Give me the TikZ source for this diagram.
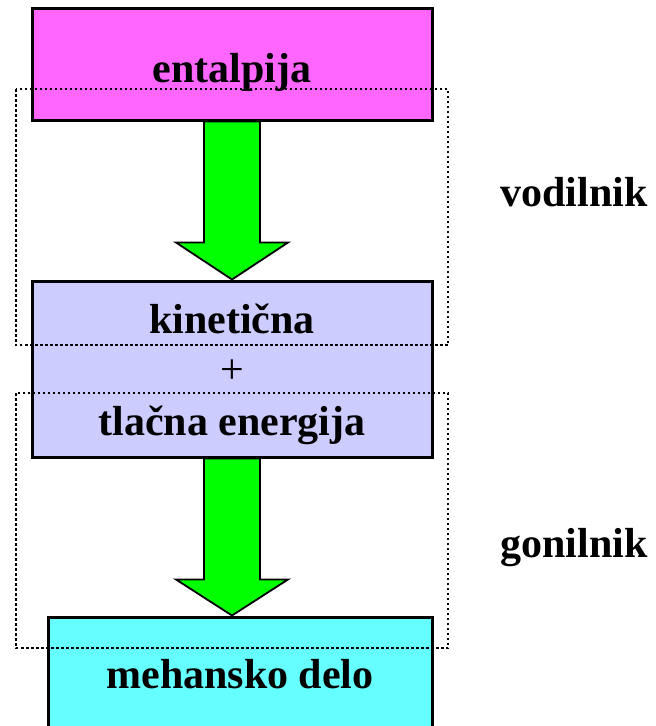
\documentclass[tikz,border=0pt]{standalone}
\usepackage{fontspec}
\setmainfont{Liberation Serif}
\usetikzlibrary{calc}

\definecolor{enthalpy}{HTML}{FF66FF}
\definecolor{energy}{HTML}{CCCCFF}
\definecolor{work}{HTML}{66FFFF}
\definecolor{flow}{HTML}{00FF00}

\tikzset{
  x=1pt, y=-1pt,
  block/.style={draw=black, line width=3pt, rectangle, inner sep=0pt},
  caption/.style={font=\fontsize{42}{50}\selectfont\bfseries, inner sep=0pt, anchor=base},
  region/.style={draw=black, line width=2.5pt, dash pattern=on 2.5pt off 2.5pt},
  flowarrow/.style={fill=flow, draw=black, line width=1.8pt, line join=miter},
}

\begin{document}
\begin{tikzpicture}
  \useasboundingbox (0,0) rectangle (656,726);

  % energy blocks
  \node[block, fill=enthalpy, minimum width=400pt, minimum height=112pt] (ent) at (232,64) {};
  \node[block, fill=energy, minimum width=400pt, minimum height=176pt] (kin) at (232,369) {};
  \node[block, fill=work, minimum width=384pt, minimum height=123pt] (mech) at (240,678.5) {};

  % block texts
  \node[caption] (tent) at (232,82) {entalpija};
  \node[caption] (tkin) at (232,333) {kinetična};
  \node[font=\fontsize{42}{50}\selectfont, inner sep=0pt] (plus) at (232,372) {+};
  \node[caption] (tpre) at (232,435) {tlačna energija};
  \node[caption] (tmech) at (240,688) {mehansko delo};

  % block arrows from block to block
  \draw[flowarrow]
    ($(ent.south)+(-28,0)$) -- ($(ent.south)+(28,0)$)
    -- ($(ent.south)+(28,121)$) -- ($(ent.south)+(56,121)$)
    -- (kin.north) -- ($(ent.south)+(-56,121)$)
    -- ($(ent.south)+(-28,121)$) -- cycle;
  \draw[flowarrow]
    ($(kin.south)+(-28,0)$) -- ($(kin.south)+(28,0)$)
    -- ($(kin.south)+(28,121)$) -- ($(kin.south)+(56,121)$)
    -- (kin.south |- mech.north) -- ($(kin.south)+(-56,121)$)
    -- ($(kin.south)+(-28,121)$) -- cycle;

  % machine parts
  \draw[region] (16,89) rectangle (448,345);
  \draw[region] (16,393) rectangle (448,648);
  \node[caption] (guide) at (574,206) {vodilnik};
  \node[caption] (rotor) at (574,557) {gonilnik};
\end{tikzpicture}
\end{document}
